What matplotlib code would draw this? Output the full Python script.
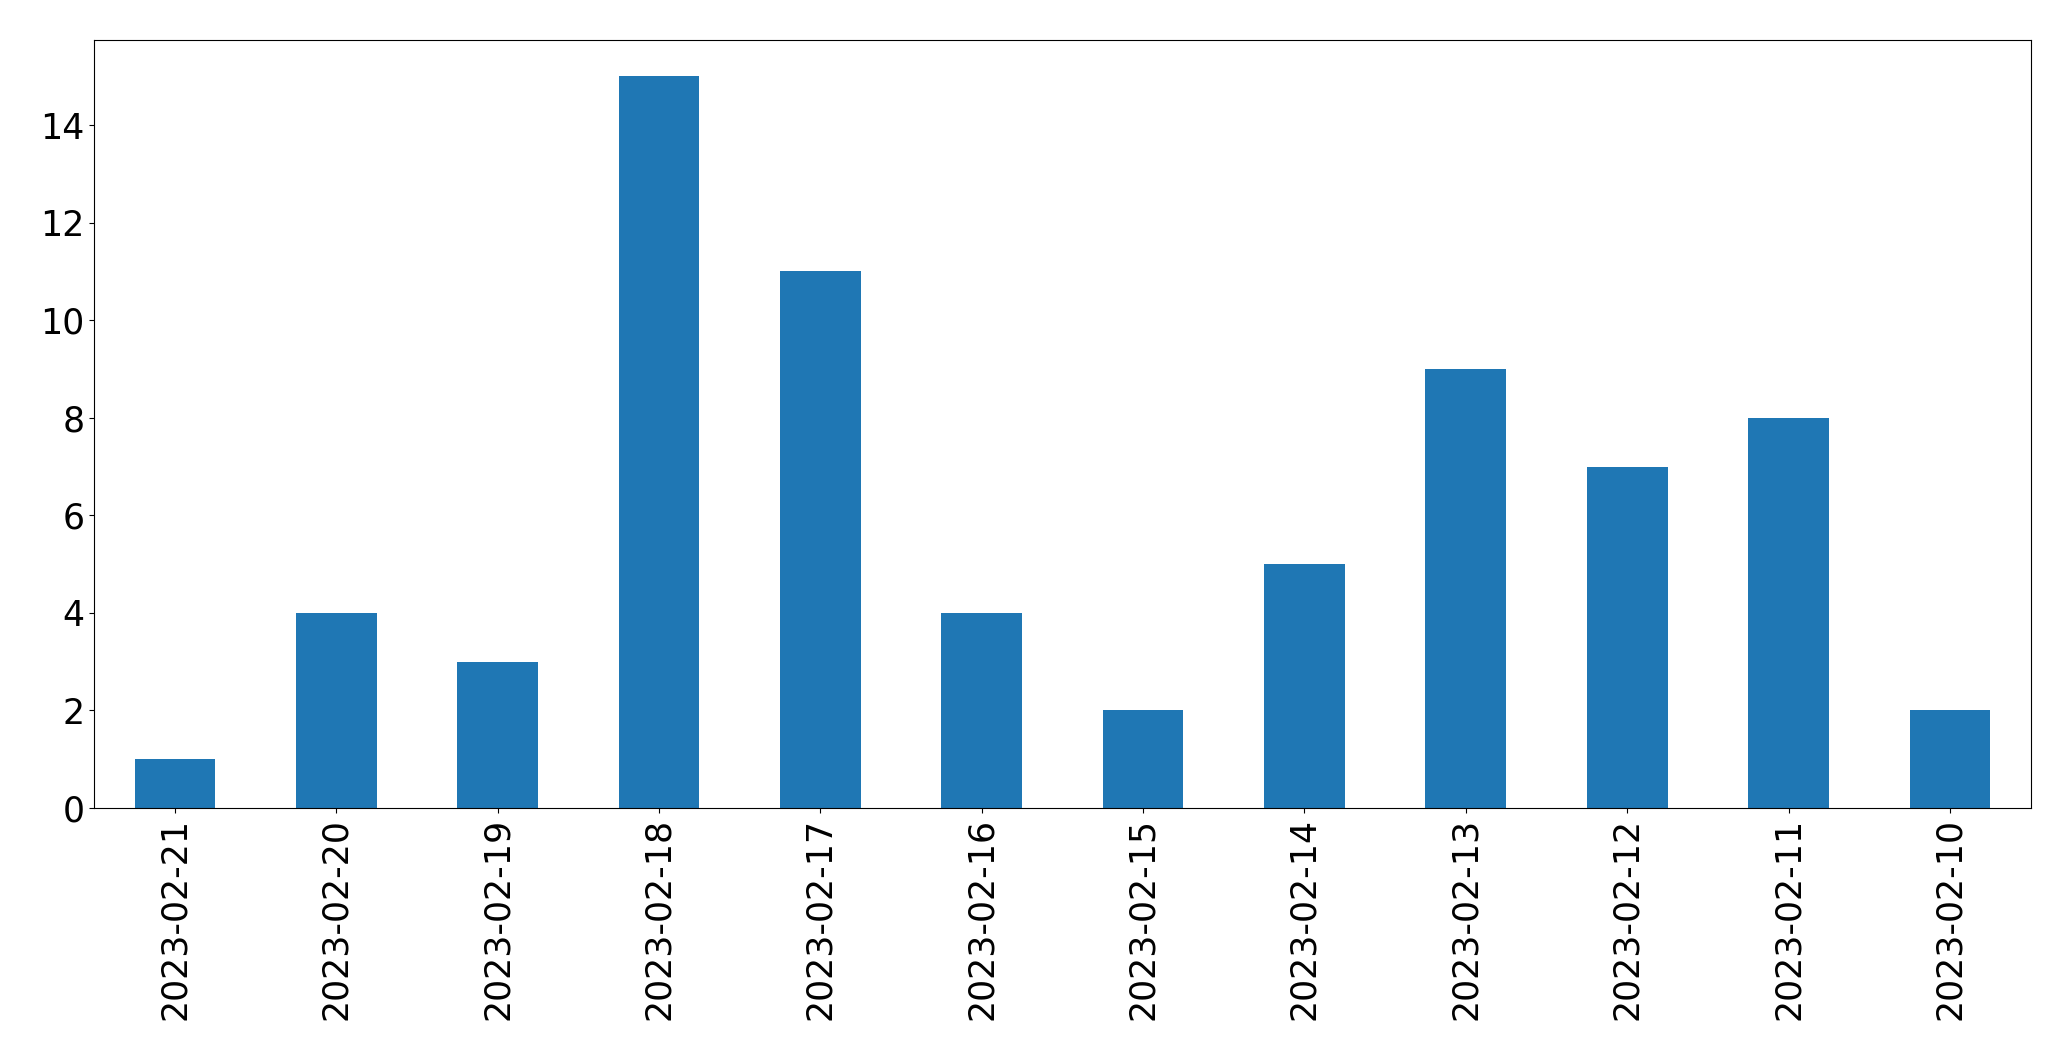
import numpy as np
import matplotlib
matplotlib.use("Agg")
import matplotlib.pyplot as plt

dates = ['2023-02-21', '2023-02-20', '2023-02-19', '2023-02-18', '2023-02-17', '2023-02-16',
         '2023-02-15', '2023-02-14', '2023-02-13', '2023-02-12', '2023-02-11', '2023-02-10']
counts = [1, 4, 3, 15, 11, 4, 2, 5, 9, 7, 8, 2]

fig = plt.figure(figsize=(20.71, 10.61), dpi=100)
ax = fig.add_axes([0.0455, 0.2385, 0.935, 0.724])
ind = np.arange(len(dates))
ax.bar(ind, counts, 0.5, color='#1f77b4')
ax.set_xlim(-0.5, len(dates) - 0.5)
ax.set_ylim(0, 15.75)
ax.set_xticks(ind)
ax.set_xticklabels(dates, rotation=90)
ax.tick_params(labelsize=25)
fig.savefig("out.png", dpi=100)
